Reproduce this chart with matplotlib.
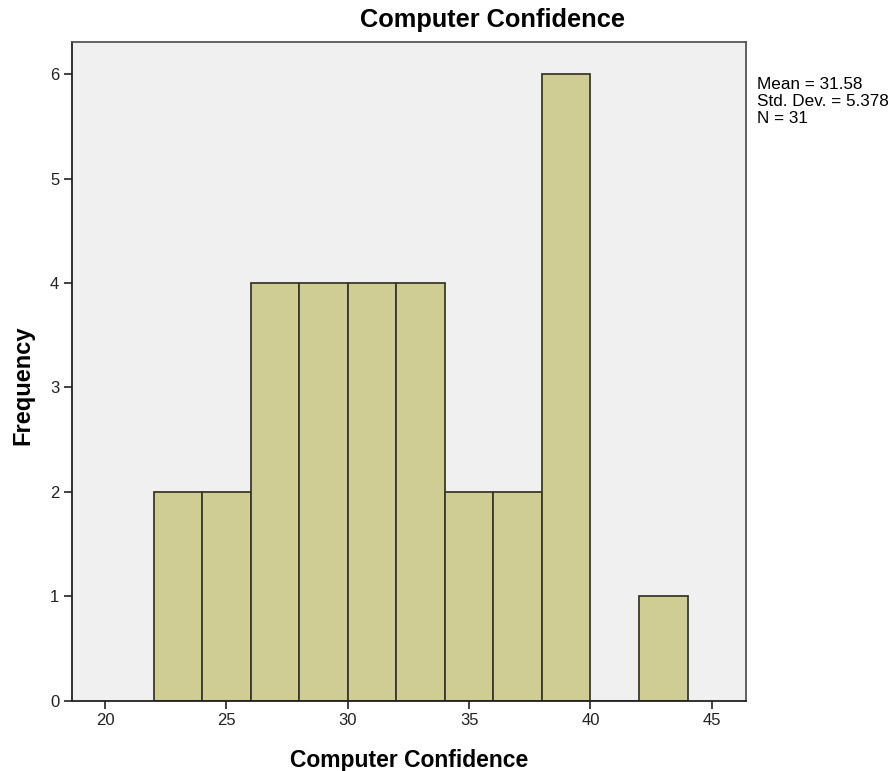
import matplotlib.pyplot as plt

plt.rcParams['font.family'] = ['Liberation Sans', 'DejaVu Sans']

# histogram bins (left edges) and frequencies
bin_left = [22, 24, 26, 28, 30, 32, 34, 36, 38, 40, 42]
counts = [2, 2, 4, 4, 4, 4, 2, 2, 6, 0, 1]
bin_width = 2
x_ticks = [20, 25, 30, 35, 40, 45]
y_ticks = [0, 1, 2, 3, 4, 5, 6]
stats_text = "Mean = 31.58\nStd. Dev. = 5.378\nN = 31"

fig = plt.figure(figsize=(8.94, 7.71), dpi=100)
ax = fig.add_axes([0.0802, 0.0912, 0.7543, 0.8547])
ax.set_facecolor('#f0f0f0')

ax.bar(bin_left, counts, width=bin_width, align='edge',
       color='#cfcc94', edgecolor='#3a3a2a', linewidth=1.3)

ax.set_xlim(18.63, 46.41)
ax.set_ylim(0, 6.31)
ax.set_xticks(x_ticks)
ax.set_yticks(y_ticks)
ax.tick_params(direction='out', length=6, width=1.2, labelsize=12,
               colors='#222222', pad=3)

for side in ['left', 'bottom']:
    ax.spines[side].set_color('#222222')
    ax.spines[side].set_linewidth(1.3)
for side in ['top', 'right']:
    ax.spines[side].set_color('#555555')
    ax.spines[side].set_linewidth(1.3)

# axis labels
ax.set_xlabel('Computer Confidence', fontsize=16.5, fontweight='bold')
ax.xaxis.set_label_coords(0.5, -0.073)
fig.text(23 / 894, 0.5, 'Frequency', fontsize=17, fontweight='bold',
         rotation=90, ha='center', va='center')

# title (offset to the right, as in the original)
fig.text(0.551, 0.974, 'Computer Confidence', fontsize=18.3, fontweight='bold',
         ha='center', va='center')

fig.text(0.847, 0.9, stats_text, fontsize=12.3, ha='left', va='top',
         linespacing=1.15)

fig.savefig('out.png', dpi=100)
